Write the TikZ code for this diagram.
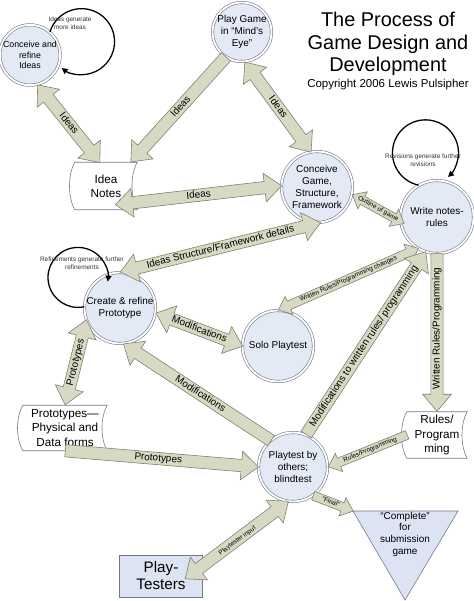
\documentclass[tikz,border=0pt]{standalone}
\usepackage{fontspec}
\setmainfont{Liberation Sans}
\usetikzlibrary{shapes.arrows, arrows.meta, calc}
\definecolor{stagefill}{RGB}{228,233,246}
\definecolor{stageedge}{RGB}{112,120,138}
\definecolor{pipefill}{RGB}{215,217,194}
\definecolor{pipeedge}{RGB}{125,127,112}
\definecolor{boxfill}{RGB}{220,228,243}
\tikzset{stage/.style={circle, draw=stageedge, line width=0.5pt, double=white, double distance=1.6pt, fill=stagefill, inner sep=0pt, align=center, font=\fontsize{8.5}{10}\selectfont},
         doc/.style={inner sep=0pt, align=center, font=\fontsize{10}{12}\selectfont},
         docedge/.style={draw=stageedge, line width=0.5pt},
         tester/.style={rectangle, draw=stageedge, fill=boxfill, line width=0.6pt, inner sep=0pt, align=center, font=\fontsize{13}{14.5}\selectfont},
         goal/.style={draw=stageedge, fill=boxfill, line width=0.5pt},
         pipe/.style={draw=pipeedge, fill=pipefill, line width=0.5pt, inner xsep=1pt, inner ysep=1pt, text height=6.3pt, text depth=1.7pt, font=\fontsize{8.5}{9}\selectfont},
         oneway/.style={pipe, single arrow, single arrow head extend=7pt, single arrow tip angle=80},
         twoway/.style={pipe, double arrow, double arrow head extend=7pt, double arrow tip angle=80},
         smallpipe/.style={font=\fontsize{5.5}{6}\selectfont, text height=4pt, text depth=1.2pt, single arrow head extend=4.5pt, double arrow head extend=4.5pt},
         tinytext/.style={font=\fontsize{5.5}{6}\selectfont},
         loopline/.style={line width=1.1pt, -{Triangle[length=5pt, width=5pt]}},
         looptext/.style={align=center, inner sep=0pt, text=black!80, font=\fontsize{5.5}{6.5}\selectfont},
        }
\newcommand{\fatlink}[4][]{%
  \path let \p1=($(#3)-(#2)$), \n1={atan2(\y1,\x1)}, \n2={veclen(\x1,\y1)} in
    node[#1, rotate=\n1, minimum height=\n2] at (#2) {#4};}
\newcommand{\docoutline}[1]{%
  \draw[docedge] (#1.north west) .. controls +(-7,-12) and +(-7,12) .. (#1.south west)
    -- (#1.south east) .. controls +(-7,12) and +(-7,-12) .. (#1.north east) -- cycle;}

\begin{document}
\begin{tikzpicture}[x=0.3mm, y=0.3mm]
        \useasboundingbox (0,0) rectangle (474,-601);

        % title
        \node[align=center, font=\fontsize{17}{19.2}\selectfont](title)at(388,-44){The Process of\\Game Design and\\Development};
        \node[font=\fontsize{9.8}{11}\selectfont](credit)at(388,-85){Copyright 2006 Lewis Pulsipher};

        % stages
        \node[stage, minimum size=17.7mm, font=\fontsize{7.5}{9}\selectfont](ideas)at(30,-55){Conceive and\\refine\\Ideas};
        \node[stage, minimum size=17.7mm](mind)at(242,-32){Play Game\\in ``Mind's\\Eye''};
        \node[stage, minimum size=21.3mm](game)at(317,-187){Conceive\\Game,\\Structure,\\Framework};
        \node[stage, minimum size=21.9mm](write)at(437,-217){Write notes-\\rules};
        \node[stage, minimum size=21.3mm](create)at(120,-308){Create \& refine\\Prototype};
        \node[stage, minimum size=21.3mm](solo)at(278,-346){Solo Playtest};
        \node[stage, minimum size=20.7mm](blind)at(293,-467){Playtest by\\others;\\blindtest};

        % documents
        \node[doc, minimum width=18.6mm, minimum height=14.1mm](notes)at(106,-186){Idea\\Notes};
        \node[doc, minimum width=25.2mm, minimum height=13.5mm](protos)at(65,-428){Prototypes---\\Physical and\\Data forms};
        \node[doc, minimum width=18mm, minimum height=13.8mm](rules)at(437,-435){Rules/\\Program\\ming};
        \docoutline{notes}
        \docoutline{protos}
        \docoutline{rules}

        \node[tester, minimum width=24.9mm, minimum height=12.6mm](testers)at(161,-576){Play-\\Testers};

        \coordinate(tri-a)at(353,-511);
        \coordinate(tri-b)at(458,-511);
        \coordinate(tri-c)at(405,-600);
        \draw[goal](tri-a)--(tri-b)--(tri-c)--cycle;
        \node[align=center, font=\fontsize{8.5}{10}\selectfont](complete)at(405,-534){``Complete''\\for\\submission\\game};

        \coordinate(notes-in)at($(notes.south)+(9,5)$);
        \coordinate(testers-in)at($(testers.east)+(-18,-3)$);

        % block arrows
        \fatlink[twoway, anchor=tip 2]{ideas.-76}{notes.105}{Ideas}
        \fatlink[oneway, shape border rotate=180, anchor=tip]{notes.44}{mind.-123}{Ideas}
        \fatlink[twoway, anchor=tip 2]{mind.-85}{game.100}{Ideas}
        \fatlink[twoway, anchor=tip 2]{notes-in}{game.178}{Ideas}
        \fatlink[twoway, smallpipe, anchor=tip 2]{game.-12}{write.187}{Outline of game}
        \fatlink[twoway, anchor=tip 2]{create.90}{game.-85}{Ideas Structure/Framework details}
        \fatlink[twoway, smallpipe, anchor=tip 2]{solo.90}{write.-121}{Written Rules/Programming changes}
        \fatlink[twoway, anchor=tip 2]{create.-8}{solo.180}{Modifications}
        \fatlink[oneway, shape border rotate=180, anchor=tip]{rules.north}{write.-90}{Written Rules/Programming}
        \fatlink[oneway, anchor=tail]{blind.68}{write.-108}{Modifications to written rules/ programming}
        \fatlink[oneway, shape border rotate=180, anchor=tip]{create.-85}{blind.130}{Modifications}
        \fatlink[twoway, anchor=tip 2]{protos.north}{create.200}{Prototypes}
        \fatlink[oneway, anchor=tail]{protos.south}{blind.180}{Prototypes}
        \fatlink[oneway, smallpipe, shape border rotate=180, anchor=tip]{blind.0}{rules.west}{Rules/Programming}
        \fatlink[oneway, smallpipe, anchor=tail]{blind.-55}{tri-a}{``Final''}
        \fatlink[twoway, tinytext, anchor=tip 2]{testers-in}{blind.-98}{Playtester input}

        % self loops
        \draw[loopline](ideas.49)arc[start angle=163, delta angle=-290, radius=33];
        \draw[loopline](write.120)arc[start angle=258, delta angle=-305, radius=33];
        \draw[loopline](create.178)arc[start angle=282, delta angle=-290, radius=30];
        \node[looptext](ideas-note)at(70,-23){Ideas generate\\more ideas};
        \node[looptext](write-note)at(423,-160){Revisions generate further\\revisions};
        \node[looptext](create-note)at(82,-263){Refinements generate further\\refinements};
\end{tikzpicture}
\end{document}
